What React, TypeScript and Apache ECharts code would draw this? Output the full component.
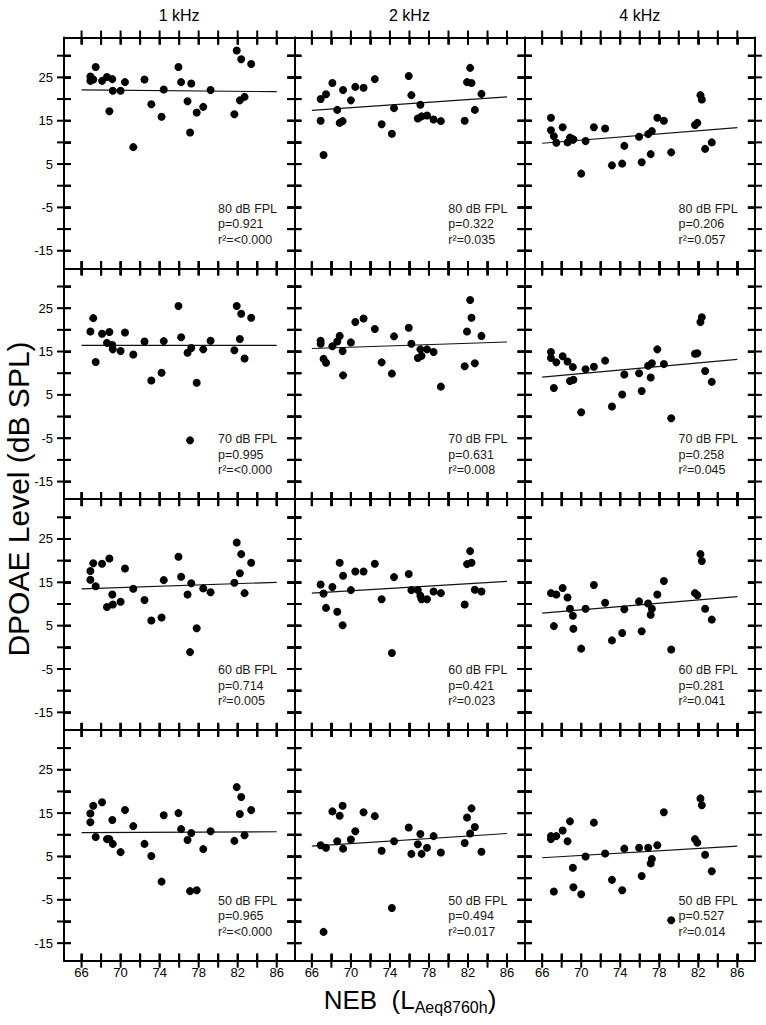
import React, { useEffect, useRef } from "react";
import * as echarts from "echarts";

// ---- data ----
const NEB = [66.9, 66.9, 67.2, 67.45, 68.1, 68.6, 68.85, 69.15, 69.2, 70.0, 70.45, 71.3, 72.45, 73.15, 74.2, 74.42, 75.93, 76.2, 76.86, 77.12, 77.24, 77.8, 78.47, 79.22, 81.66, 81.9, 82.22, 82.36, 82.7, 83.38];

const fpl80_1k = [25.2, 24.2, 24.5, 27.4, 24.2, 25.1, 17.2, 24.6, 21.9, 21.9, 23.9, 8.9, 24.5, 18.8, 15.9, 22.2, 27.4, 23.9, 19.5, 12.3, 23.6, 16.9, 18.2, 22.1, 16.5, 31.2, 19.7, 29.2, 20.5, 28.1];
const fpl80_2k = [20.0, 15.0, 7.1, 21.1, 23.7, 17.5, 14.5, 14.9, 22.1, 19.7, 22.8, 22.6, 24.6, 14.2, 12.0, 17.9, 25.3, 20.9, 15.5, 18.7, 16.0, 16.2, 15.3, 14.9, 15.0, 23.9, 27.2, 23.7, 17.5, 21.2];
const fpl80_4k = [15.7, 12.8, 11.4, 9.9, 13.5, 10.0, 11.1, 10.6, 10.7, 2.8, 10.3, 13.5, 13.2, 4.7, 5.1, 9.2, 11.3, 5.4, 11.9, 7.3, 12.6, 15.7, 15.0, 7.7, 14.0, 14.5, 20.9, 19.9, 8.5, 10.0];

const fpl70_1k = [19.6, null, 22.7, 12.6, 19.1, 17.0, 19.5, 16.5, 15.5, 15.1, 19.4, 14.3, 17.3, 8.3, 10.1, 17.4, 25.5, 18.3, 14.7, -5.5, 15.8, 7.8, 15.5, 17.5, 15.3, 25.5, 17.9, 23.7, 13.4, 22.8];
const fpl70_2k = [17.5, 16.8, 13.3, 12.4, 16.2, 17.3, 18.6, 15.1, 9.5, 17.1, 21.8, 22.6, 20.2, 12.5, 9.9, 18.5, 20.5, 16.8, 13.5, 15.5, 14.0, 15.5, 14.9, 6.9, 11.6, 19.6, 26.9, 22.8, 12.3, 18.6];
const fpl70_4k = [14.9, 13.5, 6.6, 12.5, 13.9, 12.7, 8.2, 11.4, 8.5, 1.0, 10.9, 11.5, 12.9, 2.3, 5.1, 9.7, 10.0, 5.9, 11.7, 9.0, 12.3, 15.5, 12.1, -0.4, 14.5, 14.6, 21.8, 22.9, 10.5, 8.0];

const fpl60_1k = [17.6, 15.6, 19.4, 14.1, 19.3, 9.3, 20.5, 12.2, 9.9, 10.5, 18.2, 13.5, 10.9, 6.2, 6.9, 15.5, 20.9, 16.3, 12.2, -1.1, 14.8, 4.4, 13.6, 12.7, 14.9, 24.2, 17.1, 21.5, 12.5, 19.5];
const fpl60_2k = [14.5, null, 12.4, 9.1, 13.9, 8.2, 19.5, 5.1, 16.5, 13.2, 17.5, 17.5, 19.3, 11.1, -1.3, 16.2, 16.9, 13.2, 13.2, 11.9, 11.1, 11.1, 12.9, 12.5, 9.9, 19.2, 22.2, 19.5, 13.3, 12.9];
const fpl60_4k = [12.5, null, 4.9, 12.2, 13.7, 11.5, 8.9, 7.3, 4.3, -0.3, 8.9, 14.4, 10.3, 1.6, 3.3, 8.8, 10.6, 3.7, 10.1, 7.5, 8.9, 12.2, 15.3, -0.5, 12.5, 12.0, 21.5, 19.9, 8.9, 6.4];

const fpl50_1k = [14.9, 12.9, 16.7, 9.5, 17.5, 9.0, 9.0, 13.4, 7.9, 6.0, 15.7, 12.0, 7.9, 5.1, -0.8, 14.5, 15.0, 11.3, 8.8, -3.0, 10.4, -2.8, 6.7, 10.8, 8.6, 21.0, 14.8, 18.7, 9.9, 15.7];
const fpl50_2k = [7.6, null, -12.4, 7.0, 15.4, 8.5, 14.4, 16.7, 6.8, 8.9, 10.8, 15.2, 14.3, 6.3, -6.9, 8.5, 11.7, 5.6, 7.8, 10.2, 5.6, 7.0, 9.7, 5.9, 8.1, 14.0, 10.3, 16.1, 11.8, 6.1];
const fpl50_4k = [9.7, 9.0, -3.1, 9.7, 11.0, 8.5, 13.1, 2.4, -2.1, -3.7, 5.0, 12.8, 5.7, -0.4, -2.8, 6.8, 7.0, 0.5, 7.0, 3.4, 4.4, 7.6, 15.2, -9.7, 9.0, 8.2, 18.4, 16.8, 5.4, 1.6];

const LEVELS = [
  [fpl80_1k, fpl80_2k, fpl80_4k],
  [fpl70_1k, fpl70_2k, fpl70_4k],
  [fpl60_1k, fpl60_2k, fpl60_4k],
  [fpl50_1k, fpl50_2k, fpl50_4k],
];

// regression line ends (value at NEB 66 and NEB 86)
const FIT_X = [66, 86];
const FIT_AT_66 = [
  [22.1, 17.4, 9.8],
  [16.4, 15.7, 9.1],
  [13.5, 12.5, 7.9],
  [10.5, 7.4, 4.7],
];
const FIT_AT_86 = [
  [21.7, 20.5, 13.4],
  [16.4, 17.2, 13.2],
  [15.0, 15.2, 11.7],
  [10.7, 10.3, 7.4],
];

const FREQS = ["1 kHz", "2 kHz", "4 kHz"];
const FPL_LABELS = ["80 dB FPL", "70 dB FPL", "60 dB FPL", "50 dB FPL"];
const P_VALUES = [
  ["0.921", "0.322", "0.206"],
  ["0.995", "0.631", "0.258"],
  ["0.714", "0.421", "0.281"],
  ["0.965", "0.494", "0.527"],
];
const R2_VALUES = [
  ["<0.000", "0.035", "0.057"],
  ["<0.000", "0.008", "0.045"],
  ["0.005", "0.023", "0.041"],
  ["<0.000", "0.017", "0.014"],
];

const X_TICKS = [66, 68, 70, 72, 74, 76, 78, 80, 82, 84, 86];
const X_LABELS = [66, 70, 74, 78, 82, 86];
const Y_TICKS = [-15, -10, -5, 0, 5, 10, 15, 20, 25, 30];
const Y_LABELS = [-15, -5, 5, 15, 25];

// ---- layout ----
const COL_LEFT = [64, 294.3, 524.6];
const PANEL_W = 230.3;
const ROW_TOP = [37.5, 268.3, 499.1, 729.9];
const PANEL_H = 230.8;
const X_MIN = 64.2;
const X_MAX = 87.8;
const Y_MIN = -19.05;
const Y_MAX = 34.2;
const TICK_LEN = 7;
const TICK_W = 2;
const FONT = "'Liberation Sans', Arial, Helvetica, sans-serif";

function axisLineStyle() {
  return { show: true, onZero: false, lineStyle: { color: "#000", width: 2 } };
}

function tickOpt(values: number[]) {
  return {
    show: true,
    inside: true,
    length: TICK_LEN,
    customValues: values,
    lineStyle: { color: "#000", width: TICK_W },
  };
}

// tick marks as rect symbols straddling each edge at the tick values
function edgeTickItems() {
  const items: any[] = [];
  X_TICKS.forEach((v) => {
    items.push({ value: [v, Y_MIN], symbolSize: [TICK_W, TICK_LEN * 2] });
    items.push({ value: [v, Y_MAX], symbolSize: [TICK_W, TICK_LEN * 2] });
  });
  Y_TICKS.forEach((v) => {
    items.push({ value: [X_MIN, v], symbolSize: [TICK_LEN * 2, TICK_W] });
    items.push({ value: [X_MAX, v], symbolSize: [TICK_LEN * 2, TICK_W] });
  });
  return items;
}

function buildOption() {
  const grid: any[] = [];
  const xAxis: any[] = [];
  const yAxis: any[] = [];
  const series: any[] = [];
  const graphic: any[] = [];

  for (let r = 0; r < 4; r++) {
    for (let c = 0; c < 3; c++) {
      const gi = r * 3 + c;
      grid.push({
        left: COL_LEFT[c],
        top: ROW_TOP[r],
        width: PANEL_W,
        height: PANEL_H,
        show: false,
      });
      const xBase = {
        type: "value",
        gridIndex: gi,
        min: X_MIN,
        max: X_MAX,
        axisLine: axisLineStyle(),
        splitLine: { show: false },
        axisTick: tickOpt(X_TICKS),
      };
      xAxis.push({
        ...xBase,
        position: "bottom",
        axisLabel: {
          show: r === 3,
          customValues: X_LABELS,
          margin: 5,
          fontSize: 13,
          color: "#000",
          fontFamily: FONT,
        },
      });
      xAxis.push({ ...xBase, position: "top", axisLabel: { show: false } });
      const yBase = {
        type: "value",
        gridIndex: gi,
        min: Y_MIN,
        max: Y_MAX,
        axisLine: axisLineStyle(),
        splitLine: { show: false },
        axisTick: tickOpt(Y_TICKS),
      };
      yAxis.push({
        ...yBase,
        position: "left",
        axisLabel: {
          show: c === 0,
          customValues: Y_LABELS,
          margin: 11,
          fontSize: 13,
          color: "#000",
          fontFamily: FONT,
        },
      });
      yAxis.push({ ...yBase, position: "right", axisLabel: { show: false } });

      const vals = LEVELS[r][c];
      const pts: number[][] = [];
      NEB.forEach((x, k) => {
        const v = vals[k];
        if (v !== null && v !== undefined) pts.push([x, v as number]);
      });
      series.push({
        type: "scatter",
        xAxisIndex: gi * 2,
        yAxisIndex: gi * 2,
        data: pts,
        symbol: "circle",
        symbolSize: 8,
        itemStyle: { color: "#000", opacity: 1 },
        silent: true,
        z: 3,
      });
      series.push({
        type: "line",
        xAxisIndex: gi * 2,
        yAxisIndex: gi * 2,
        data: [
          [FIT_X[0], FIT_AT_66[r][c]],
          [FIT_X[1], FIT_AT_86[r][c]],
        ],
        symbol: "none",
        lineStyle: { color: "#111", width: 1.2 },
        silent: true,
        z: 2,
      });
      series.push({
        type: "scatter",
        xAxisIndex: gi * 2,
        yAxisIndex: gi * 2,
        data: edgeTickItems(),
        symbol: "rect",
        itemStyle: { color: "#000", opacity: 1 },
        silent: true,
        clip: false,
        z: 6,
      });

      const tx = COL_LEFT[c] + 154;
      const ty = ROW_TOP[r] + 171;
      const lines = [FPL_LABELS[r], "p=" + P_VALUES[r][c], "r\u00b2=" + R2_VALUES[r][c]];
      lines.forEach((t, li) => {
        graphic.push({
          type: "text",
          x: tx,
          y: ty + li * 15.5,
          silent: true,
          style: {
            text: t,
            fontSize: 12.5,
            fontFamily: FONT,
            fill: "#1a1a1a",
            textAlign: "left",
            textVerticalAlign: "middle",
          },
        });
      });
    }
  }

  FREQS.forEach((f, c) => {
    graphic.push({
      type: "text",
      x: COL_LEFT[c] + PANEL_W / 2,
      y: 15,
      silent: true,
      style: {
        text: f,
        fontSize: 16,
        fontFamily: FONT,
        fill: "#000",
        textAlign: "center",
        textVerticalAlign: "middle",
      },
    });
  });

  graphic.push({
    type: "text",
    x: 18,
    y: 499,
    rotation: Math.PI / 2,
    silent: true,
    style: {
      text: "DPOAE Level (dB SPL)",
      fontSize: 30,
      fontFamily: FONT,
      fill: "#000",
      textAlign: "center",
      textVerticalAlign: "middle",
    },
  });

  graphic.push({
    type: "text",
    x: 410,
    y: 1000,
    silent: true,
    style: {
      text: "{m|NEB  (L}{s|Aeq8760h}{m|)}",
      fill: "#000",
      textAlign: "center",
      textVerticalAlign: "middle",
      rich: {
        m: { fontSize: 26, fontFamily: FONT, lineHeight: 30, verticalAlign: "middle", fill: "#000" },
        s: { fontSize: 16, fontFamily: FONT, lineHeight: 30, padding: [14, 0, 0, 0], verticalAlign: "middle", fill: "#000" },
      },
    },
  });

  return {
    animation: false,
    backgroundColor: "#fff",
    grid,
    xAxis,
    yAxis,
    series,
    graphic,
  };
}

// inward tick marks as filled rects, positioned through the series' coordinate system
function buildTicks(chart: any) {
  const out: any[] = [];
  const st = { fill: "#000" };
  for (let gi = 0; gi < 12; gi++) {
    const finder = { seriesIndex: gi * 3 };
    const px = (p: number[]) => chart.convertToPixel(finder, p);
    X_TICKS.forEach((v) => {
      const b = px([v, Y_MIN]);
      const t = px([v, Y_MAX]);
      if (!b || !t || isNaN(b[0]) || isNaN(t[0])) return;
      out.push({ type: "rect", silent: true, z: 100, shape: { x: b[0] - TICK_W / 2, y: b[1] - TICK_LEN, width: TICK_W, height: TICK_LEN }, style: st });
      out.push({ type: "rect", silent: true, z: 100, shape: { x: t[0] - TICK_W / 2, y: t[1], width: TICK_W, height: TICK_LEN }, style: st });
    });
    Y_TICKS.forEach((v) => {
      const l = px([X_MIN, v]);
      const rr = px([X_MAX, v]);
      if (!l || !rr || isNaN(l[1]) || isNaN(rr[1])) return;
      out.push({ type: "rect", silent: true, z: 100, shape: { x: l[0], y: l[1] - TICK_W / 2, width: TICK_LEN, height: TICK_W }, style: st });
      out.push({ type: "rect", silent: true, z: 100, shape: { x: rr[0] - TICK_LEN, y: rr[1] - TICK_W / 2, width: TICK_LEN, height: TICK_W }, style: st });
    });
  }
  return out;
}

export default function App() {
  const ref = useRef<HTMLDivElement>(null);
  useEffect(() => {
    document.body.style.margin = "0";
    const chart = echarts.init(ref.current as HTMLDivElement, null, { renderer: "svg" });
    const option: any = buildOption();
    chart.setOption(option);
    let ticks: any[] = [];
    try {
      ticks = buildTicks(chart);
    } catch (e) {
      ticks = [];
    }
    if (ticks.length) chart.setOption({ graphic: option.graphic.concat(ticks) });
    return () => {
      chart.dispose();
    };
  }, []);
  return <div ref={ref} style={{ width: 766, height: 1025, background: "#fff" }} />;
}
